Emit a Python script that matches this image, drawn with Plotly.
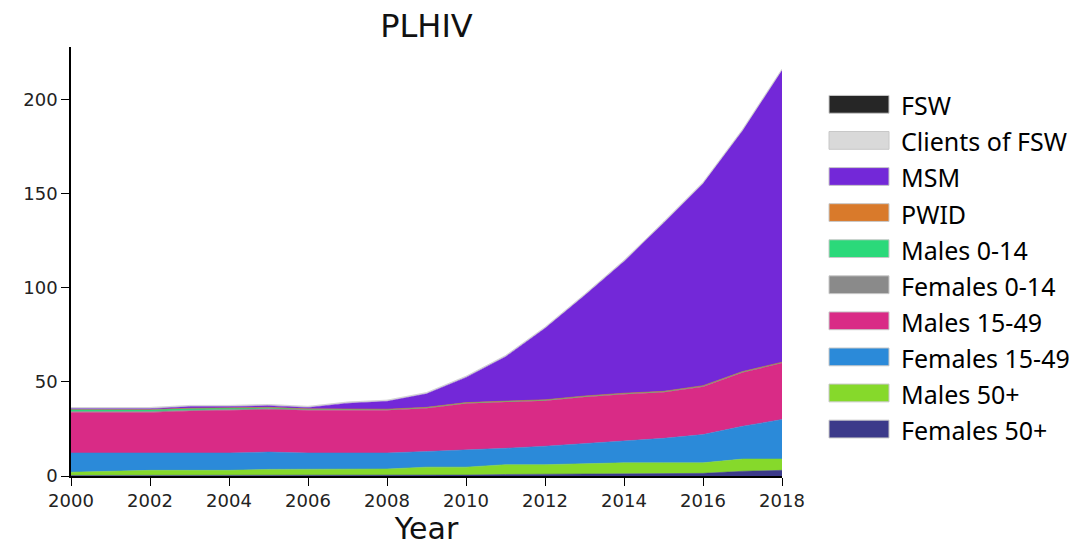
import plotly.graph_objects as go

years = list(range(2000, 2019))

# Series values (thickness of each stacked band)
females_50 = [0.3, 0.3, 0.3, 0.3, 0.3, 0.3, 0.3, 0.3, 0.3, 0.4, 0.5, 0.8, 1.0, 1.1, 1.2, 1.3, 1.4, 2.5, 3.0]
males_50 = [1.7, 2.2, 2.7, 2.7, 2.7, 3.2, 3.4, 3.4, 3.4, 4.3, 4.2, 5.2, 5.0, 5.4, 5.8, 5.7, 5.6, 6.5, 6.0]
females_15_49 = [10.2, 9.7, 9.2, 9.2, 9.2, 9.2, 8.5, 8.5, 8.5, 8.3, 9.0, 8.7, 9.8, 10.7, 11.5, 13.0, 15.0, 17.4, 21.0]
males_15_49 = [21.6, 21.6, 21.6, 22.3, 22.8, 22.7, 22.8, 22.8, 22.8, 23.0, 24.8, 24.6, 24.2, 24.8, 25.0, 24.5, 25.5, 28.6, 30.0]
females_0_14 = [0.5, 0.5, 0.5, 0.5, 0.4, 0.4, 0.3, 0.3, 0.3, 0.3, 0.3, 0.3, 0.3, 0.3, 0.3, 0.3, 0.3, 0.3, 0.3]
males_0_14 = [1.2, 1.2, 1.1, 1.0, 0.9, 0.7, 0.4, 0.3, 0.2, 0.2, 0.2, 0.2, 0.2, 0.2, 0.2, 0.2, 0.2, 0.2, 0.2]
pwid = [0.0] * 19
msm = [0.3, 0.3, 0.4, 0.9, 0.6, 0.9, 0.7, 3.1, 4.2, 7.2, 13.4, 23.6, 38.0, 53.4, 70.0, 89.4, 107.4, 128.0, 155.1]
clients_fsw = [0.6, 0.6, 0.6, 0.6, 0.6, 0.6, 0.6, 0.6, 0.6, 0.6, 0.6, 0.6, 0.6, 0.6, 0.6, 0.6, 0.6, 0.6, 0.6]
fsw = [0.0] * 19

names = ["Females 50+", "Males 50+", "Females 15-49", "Males 15-49", "Females 0-14",
         "Males 0-14", "PWID", "MSM", "Clients of FSW", "FSW"]
series = [females_50, males_50, females_15_49, males_15_49, females_0_14,
          males_0_14, pwid, msm, clients_fsw, fsw]
colors = ["#3c3a8a", "#86d92b", "#2b8ad9", "#d92b86", "#8a8a8a",
          "#2bd97a", "#d97a2b", "#7328d8", "#d9d9d9", "#262626"]

x_ticks = [2000, 2002, 2004, 2006, 2008, 2010, 2012, 2014, 2016, 2018]
y_ticks = [0, 50, 100, 150, 200]

fig = go.Figure()
for name, vals, col in zip(names, series, colors):
    fig.add_trace(go.Scatter(
        x=years, y=vals, name=name, mode="lines", stackgroup="one",
        line=dict(width=0.6, color="#d0d0d0" if name in ("Clients of FSW", "FSW") else col),
        fillcolor=col, showlegend=False, hoverinfo="x+y+name"))

OFF = 8  # page margin of the browser
W, H = 1082, 539
L, T = 71 - OFF, 47 - OFF
pw = 782 - 71
ph = 479 - 47 + 2
R = W - L - pw
B = H - T - ph

def py(screen_y):
    return (T + ph - (screen_y - OFF)) / ph

def px(screen_x):
    return (screen_x - OFF - L) / pw

# Custom legend (wide colour boxes), top to bottom
leg_names = names[::-1]
leg_colors = colors[::-1]
for i, (n, c) in enumerate(zip(leg_names, leg_colors)):
    cy = 105 + i * 36.5
    fig.add_shape(type="rect", xref="paper", yref="paper",
                  x0=px(829), x1=px(889), y0=py(cy + 9), y1=py(cy - 9),
                  fillcolor=c, line=dict(color="#c8c8c8", width=1))
    fig.add_annotation(xref="paper", yref="paper", x=px(899), y=py(cy + 1),
                       text=n, showarrow=False, xanchor="left", yanchor="middle",
                       font=dict(family="Noto Sans", size=25, color="black"))

fig.update_layout(
    width=W, height=H,
    margin=dict(l=L, r=R, t=T, b=B),
    paper_bgcolor="white", plot_bgcolor="white",
    title=dict(text="PLHIV", x=(L + pw / 2) / W, xanchor="center", y=1 - 29 / H, yanchor="bottom",
               font=dict(family="DejaVu Sans", size=32, color="#111111")),
    font=dict(family="DejaVu Sans", color="#222222"),
    xaxis=dict(range=[2000, 2018], tickvals=x_ticks, showgrid=False, zeroline=False,
               showline=True, linecolor="black", linewidth=1.5, ticks="outside", ticklen=8,
               tickcolor="black", tickfont=dict(size=18),
               title=dict(text="Year", font=dict(size=30, color="#111111"), standoff=3)),
    yaxis=dict(range=[0, 228], tickvals=y_ticks, showgrid=False, zeroline=False,
               showline=True, linecolor="black", linewidth=1.5, ticks="outside", ticklen=8,
               tickcolor="black", tickfont=dict(size=18)),
    showlegend=False,
)

fig.write_html("out.html")
